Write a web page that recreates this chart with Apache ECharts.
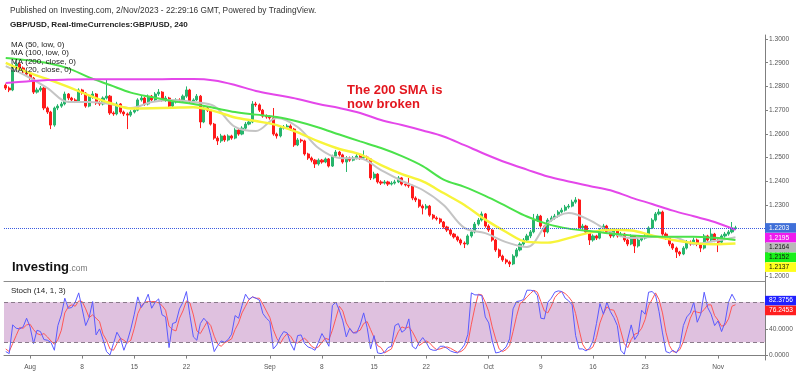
<!DOCTYPE html>
<html><head><meta charset="utf-8">
<script src="https://cdn.jsdelivr.net/npm/echarts@6/dist/echarts.min.js"></script>
<style>html,body{margin:0;padding:0;background:#fff}#c{width:800px;height:375px}</style>
</head><body><div id="c"></div>
<script>
// ---------- DATA ----------
// GBP/USD bars, one every 8 hours, first bar 27 Jul 2023 16:00
const opens = [1.2805,1.2793,1.2785,1.2886,1.2895,1.2878,1.2861,1.2852,1.2835,1.2776,
1.2785,1.2793,1.2709,1.2692,1.2637,1.2709,1.2717,1.2726,1.2768,1.2751,
1.2743,1.2738,1.2785,1.2772,1.2717,1.2755,1.2768,1.2730,1.2726,1.2751,
1.2759,1.2688,1.2684,1.2726,1.2692,1.2684,1.2679,1.2692,1.2700,1.2743,
1.2751,1.2726,1.2759,1.2743,1.2768,1.2776,1.2743,1.2751,1.2717,1.2734,
1.2743,1.2738,1.2759,1.2785,1.2738,1.2743,1.2759,1.2650,1.2709,1.2700,
1.2641,1.2582,1.2570,1.2591,1.2574,1.2591,1.2582,1.2616,1.2599,1.2624,
1.2641,1.2650,1.2726,1.2722,1.2700,1.2675,1.2671,1.2667,1.2599,1.2591,
1.2624,1.2629,1.2633,1.2620,1.2553,1.2574,1.2570,1.2515,1.2498,1.2489,
1.2473,1.2489,1.2481,1.2494,1.2464,1.2506,1.2523,1.2511,1.2481,1.2498,
1.2489,1.2498,1.2506,1.2498,1.2502,1.2494,1.2414,1.2430,1.2397,1.2392,
1.2397,1.2388,1.2392,1.2397,1.2414,1.2388,1.2384,1.2380,1.2329,1.2321,
1.2295,1.2287,1.2295,1.2257,1.2245,1.2241,1.2228,1.2207,1.2194,1.2177,
1.2165,1.2152,1.2139,1.2135,1.2169,1.2186,1.2219,1.2236,1.2262,1.2211,
1.2194,1.2152,1.2110,1.2084,1.2068,1.2059,1.2051,1.2084,1.2110,1.2135,
1.2152,1.2169,1.2186,1.2236,1.2253,1.2211,1.2186,1.2236,1.2245,1.2253,
1.2270,1.2278,1.2291,1.2295,1.2312,1.2321,1.2203,1.2211,1.2186,1.2152,
1.2169,1.2160,1.2194,1.2211,1.2186,1.2169,1.2194,1.2169,1.2177,1.2152,
1.2135,1.2169,1.2127,1.2152,1.2160,1.2169,1.2203,1.2236,1.2262,1.2270,
1.2177,1.2160,1.2135,1.2118,1.2101,1.2093,1.2118,1.2143,1.2135,1.2152,
1.2135,1.2118,1.2169,1.2152,1.2177,1.2152,1.2143,1.2169,1.2177,1.2186,
1.2203];
const closes = [1.2793,1.2785,1.2886,1.2895,1.2878,1.2861,1.2852,1.2835,1.2776,1.2785,
1.2793,1.2709,1.2692,1.2637,1.2709,1.2717,1.2726,1.2768,1.2751,1.2743,
1.2738,1.2785,1.2772,1.2717,1.2755,1.2768,1.2730,1.2726,1.2751,1.2759,
1.2688,1.2684,1.2726,1.2692,1.2684,1.2679,1.2692,1.2700,1.2743,1.2751,
1.2726,1.2759,1.2743,1.2768,1.2776,1.2743,1.2751,1.2717,1.2734,1.2743,
1.2738,1.2759,1.2785,1.2738,1.2743,1.2759,1.2650,1.2709,1.2700,1.2641,
1.2582,1.2570,1.2591,1.2574,1.2591,1.2582,1.2616,1.2599,1.2624,1.2641,
1.2650,1.2726,1.2722,1.2700,1.2675,1.2671,1.2667,1.2599,1.2591,1.2624,
1.2629,1.2633,1.2620,1.2553,1.2574,1.2570,1.2515,1.2498,1.2489,1.2473,
1.2489,1.2481,1.2494,1.2464,1.2506,1.2523,1.2511,1.2481,1.2498,1.2489,
1.2498,1.2506,1.2498,1.2502,1.2494,1.2414,1.2430,1.2397,1.2392,1.2397,
1.2388,1.2392,1.2397,1.2414,1.2388,1.2384,1.2380,1.2329,1.2321,1.2295,
1.2287,1.2295,1.2257,1.2245,1.2241,1.2228,1.2207,1.2194,1.2177,1.2165,
1.2152,1.2139,1.2135,1.2169,1.2186,1.2219,1.2236,1.2262,1.2211,1.2194,
1.2152,1.2110,1.2084,1.2068,1.2059,1.2051,1.2084,1.2110,1.2135,1.2152,
1.2169,1.2186,1.2236,1.2253,1.2211,1.2186,1.2236,1.2245,1.2253,1.2270,
1.2278,1.2291,1.2295,1.2312,1.2321,1.2203,1.2211,1.2186,1.2152,1.2169,
1.2160,1.2194,1.2211,1.2186,1.2169,1.2194,1.2169,1.2177,1.2152,1.2135,
1.2169,1.2127,1.2152,1.2160,1.2169,1.2203,1.2236,1.2262,1.2270,1.2177,
1.2160,1.2135,1.2118,1.2101,1.2093,1.2118,1.2143,1.2135,1.2152,1.2135,
1.2118,1.2169,1.2152,1.2177,1.2152,1.2143,1.2169,1.2177,1.2186,1.2203,
1.2203];
const highs = [1.2812,1.2800,1.2895,1.2905,1.2900,1.2884,1.2866,1.2858,1.2840,1.2795,
1.2802,1.2798,1.2715,1.2697,1.2715,1.2725,1.2735,1.2778,1.2772,1.2756,
1.2750,1.2792,1.2790,1.2776,1.2762,1.2780,1.2772,1.2738,1.2758,1.2827,
1.2764,1.2695,1.2735,1.2730,1.2698,1.2690,1.2700,1.2708,1.2750,1.2762,
1.2756,1.2766,1.2764,1.2776,1.2789,1.2780,1.2760,1.2756,1.2742,1.2750,
1.2750,1.2766,1.2800,1.2790,1.2750,1.2768,1.2764,1.2715,1.2716,1.2705,
1.2646,1.2590,1.2600,1.2596,1.2598,1.2596,1.2624,1.2620,1.2632,1.2650,
1.2660,1.2738,1.2735,1.2728,1.2705,1.2682,1.2678,1.2709,1.2605,1.2630,
1.2637,1.2641,1.2640,1.2625,1.2582,1.2580,1.2575,1.2520,1.2504,1.2494,
1.2496,1.2494,1.2500,1.2498,1.2512,1.2532,1.2528,1.2516,1.2506,1.2504,
1.2506,1.2515,1.2512,1.2530,1.2508,1.2498,1.2440,1.2434,1.2404,1.2405,
1.2402,1.2400,1.2406,1.2422,1.2418,1.2395,1.2414,1.2385,1.2336,1.2326,
1.2302,1.2304,1.2300,1.2262,1.2252,1.2246,1.2232,1.2212,1.2200,1.2182,
1.2170,1.2158,1.2146,1.2176,1.2194,1.2228,1.2245,1.2272,1.2266,1.2218,
1.2198,1.2156,1.2116,1.2090,1.2074,1.2065,1.2092,1.2118,1.2142,1.2160,
1.2178,1.2194,1.2262,1.2262,1.2258,1.2216,1.2244,1.2254,1.2262,1.2278,
1.2288,1.2300,1.2304,1.2322,1.2333,1.2326,1.2220,1.2216,1.2190,1.2176,
1.2174,1.2202,1.2220,1.2216,1.2192,1.2200,1.2198,1.2186,1.2182,1.2158,
1.2176,1.2173,1.2160,1.2168,1.2177,1.2210,1.2244,1.2270,1.2283,1.2276,
1.2184,1.2165,1.2140,1.2124,1.2106,1.2126,1.2152,1.2150,1.2162,1.2158,
1.2140,1.2177,1.2174,1.2203,1.2182,1.2158,1.2176,1.2186,1.2194,1.2228,
1.2212];
const lows = [1.2785,1.2776,1.2780,1.2878,1.2870,1.2855,1.2845,1.2828,1.2768,1.2770,
1.2778,1.2700,1.2684,1.2620,1.2630,1.2700,1.2710,1.2720,1.2742,1.2735,
1.2730,1.2732,1.2765,1.2710,1.2712,1.2748,1.2722,1.2718,1.2720,1.2745,
1.2680,1.2676,1.2678,1.2685,1.2675,1.2620,1.2672,1.2686,1.2695,1.2736,
1.2718,1.2720,1.2735,1.2738,1.2760,1.2736,1.2735,1.2710,1.2712,1.2728,
1.2730,1.2733,1.2752,1.2730,1.2732,1.2738,1.2624,1.2645,1.2692,1.2635,
1.2575,1.2553,1.2562,1.2566,1.2568,1.2575,1.2577,1.2592,1.2594,1.2618,
1.2636,1.2645,1.2714,1.2692,1.2668,1.2664,1.2660,1.2592,1.2580,1.2585,
1.2618,1.2622,1.2612,1.2545,1.2548,1.2562,1.2508,1.2490,1.2480,1.2456,
1.2466,1.2474,1.2476,1.2458,1.2460,1.2500,1.2504,1.2474,1.2439,1.2482,
1.2484,1.2492,1.2490,1.2493,1.2488,1.2405,1.2408,1.2390,1.2384,1.2386,
1.2380,1.2382,1.2386,1.2392,1.2382,1.2378,1.2372,1.2320,1.2312,1.2288,
1.2260,1.2280,1.2250,1.2238,1.2234,1.2220,1.2200,1.2186,1.2170,1.2158,
1.2145,1.2130,1.2118,1.2130,1.2162,1.2180,1.2212,1.2230,1.2204,1.2186,
1.2145,1.2102,1.2076,1.2060,1.2050,1.2038,1.2046,1.2078,1.2104,1.2128,
1.2146,1.2160,1.2180,1.2228,1.2204,1.2165,1.2180,1.2230,1.2238,1.2246,
1.2264,1.2272,1.2284,1.2290,1.2305,1.2196,1.2195,1.2178,1.2131,1.2145,
1.2152,1.2155,1.2188,1.2178,1.2160,1.2162,1.2162,1.2164,1.2144,1.2126,
1.2130,1.2097,1.2120,1.2146,1.2154,1.2164,1.2198,1.2230,1.2256,1.2170,
1.2152,1.2126,1.2110,1.2076,1.2084,1.2088,1.2112,1.2128,1.2130,1.2126,
1.2101,1.2112,1.2145,1.2147,1.2143,1.2101,1.2138,1.2162,1.2170,1.2180,
1.2194];

// moving averages, read every 6th bar
const maBars = [0,6,12,18,24,30,36,42,48,54,60,66,72,78,84,90,96,102,108,114,120,126,132,138,144,150,156,162,168,174,180,186,192,198,204,210];
const ma200 = [1.2814,1.2821,1.2827,1.2829,1.2830,1.2830,1.2830,1.2830,1.2831,1.2831,1.2825,1.2806,1.2781,1.2764,1.2747,1.2726,1.2709,1.2688,1.2658,1.2637,1.2614,1.2589,1.2552,1.2514,1.2479,1.2449,1.2420,1.2399,1.2380,1.2362,1.2331,1.2304,1.2276,1.2252,1.2228,1.2195];
const ma100 = [1.2920,1.2911,1.2899,1.2876,1.2838,1.2806,1.2774,1.2755,1.2738,1.2726,1.2709,1.2692,1.2681,1.2671,1.2652,1.2627,1.2597,1.2568,1.2540,1.2506,1.2464,1.2407,1.2376,1.2338,1.2295,1.2251,1.2219,1.2200,1.2190,1.2179,1.2171,1.2167,1.2166,1.2166,1.2161,1.2152];
const ma50 = [1.2899,1.2861,1.2831,1.2798,1.2762,1.2730,1.2707,1.2708,1.2710,1.2712,1.2696,1.2669,1.2654,1.2637,1.2606,1.2568,1.2536,1.2513,1.2468,1.2430,1.2399,1.2350,1.2300,1.2238,1.2186,1.2144,1.2141,1.2160,1.2183,1.2195,1.2192,1.2171,1.2152,1.2139,1.2134,1.2137];
const ma20 = [1.2886,1.2844,1.2793,1.2734,1.2734,1.2726,1.2709,1.2734,1.2743,1.2734,1.2717,1.2629,1.2612,1.2667,1.2629,1.2540,1.2498,1.2496,1.2447,1.2401,1.2363,1.2300,1.2203,1.2181,1.2143,1.2122,1.2224,1.2266,1.2236,1.2186,1.2160,1.2165,1.2165,1.2135,1.2148,1.2164];

// Stochastic (14,1,3)
const stochK = [6,3,46,41,40,43,56,43,18,38,
36,24,23,20,8,45,61,86,71,72,
80,94,70,45,57,81,31,40,24,6,
1,18,35,26,8,22,40,62,88,72,
80,92,71,80,85,61,58,12,48,50,
70,80,96,60,28,23,48,56,50,30,
6,15,22,20,24,32,60,56,75,92,
84,88,86,83,63,56,51,10,16,28,
36,34,18,8,30,31,18,13,11,8,
20,33,24,14,75,80,68,52,28,41,
34,34,46,64,42,10,30,4,3,5,
12,14,45,48,35,39,55,14,10,20,
27,20,10,8,8,14,14,11,7,5,
4,9,16,32,94,91,91,90,58,49,
22,4,5,8,13,25,70,81,82,84,
98,98,97,90,56,55,80,86,95,97,
96,86,82,76,30,10,10,7,11,22,
48,78,62,80,66,57,45,8,2,25,
46,24,32,68,62,95,96,91,66,34,
6,4,8,4,14,45,58,64,80,50,
62,95,72,62,45,52,36,50,80,92,
82.3756];
const stochD = [10,6,18,30,42,41,46,47,39,33,
31,33,28,22,17,24,38,64,73,76,
74,82,81,70,57,61,56,51,32,23,
10,8,18,26,23,19,23,41,63,74,
80,81,81,81,79,75,68,44,39,37,
56,67,82,79,61,37,33,42,51,45,
29,17,14,19,22,25,39,49,64,74,
84,88,86,86,77,67,57,39,26,18,
27,33,29,20,19,23,26,21,14,11,
13,20,26,24,38,56,74,67,49,40,
34,36,38,48,51,39,27,15,12,4,
7,10,24,36,43,41,43,36,26,15,
19,22,19,13,9,10,12,13,11,8,
5,6,10,19,47,72,92,91,80,66,
43,25,10,6,9,15,36,59,78,82,
88,93,98,95,81,67,64,74,87,93,
96,93,88,81,63,39,17,9,9,13,
27,49,63,73,69,68,56,37,18,12,
24,32,34,41,54,75,84,94,84,64,
35,15,6,5,9,21,39,56,67,65,
64,69,76,76,60,53,44,46,55,74,
76.2453];

// axis tick labels
const priceTicks = [1.20,1.21,1.22,1.23,1.24,1.25,1.26,1.27,1.28,1.29,1.30];
const stochTicks = [0,40,80];
const dateTickDays = ['2023-08-01','2023-08-08','2023-08-15','2023-08-22','2023-09-01','2023-09-08','2023-09-15','2023-09-22','2023-10-02','2023-10-09','2023-10-16','2023-10-23','2023-11-01'];
const dateTickLabels = ['Aug','8','15','22','Sep','8','15','22','Oct','9','16','23','Nov'];

// ---------- BUILD ----------
const FONT = '"Liberation Sans", Arial, sans-serif';
const barHours = 8, slotCount = 219;
function pad(n){return (n<10?'0':'')+n;}
const categories = [];
(function(){
  let t = Date.UTC(2023,6,27,16);
  for (let k=0;k<slotCount;k++){
    const d = new Date(t);
    categories.push(d.getUTCFullYear()+'-'+pad(d.getUTCMonth()+1)+'-'+pad(d.getUTCDate())+' '+pad(d.getUTCHours()));
    t += barHours*3600e3;
    if (new Date(t).getUTCDay()===6) t += 2*86400e3;
  }
})();
const tickMap = {};
dateTickDays.forEach((d,k)=>{ tickMap[d+' 00'] = dateTickLabels[k]; });
const isTick = (idx,val)=> tickMap[val] !== undefined;

const candleData = closes.map((c,i)=>[opens[i], c, lows[i], highs[i]]);
const maPairs = arr => maBars.map((b,k)=>[b, arr[k]]);

const chart = echarts.init(document.getElementById('c'), null, {renderer:'canvas'});
const axisGray = '#7f7f7f';
const GRID_L = 4, GRID_R = 35;

const option = {
  animation:false,
  backgroundColor:'#ffffff',
  grid:[
    {left:GRID_L, right:GRID_R, top:35, height:246},
    {left:GRID_L, right:GRID_R, top:281, height:79}
  ],
  xAxis:[
    {type:'category', gridIndex:0, data:categories, boundaryGap:true,
     axisLine:{show:true, lineStyle:{color:'#8c8c8c', width:1}},
     axisTick:{show:false}, axisLabel:{show:false}, splitLine:{show:false}},
    {type:'category', gridIndex:1, data:categories, boundaryGap:true,
     axisLine:{show:true, lineStyle:{color:axisGray, width:1}},
     axisTick:{show:true, interval:isTick, alignWithLabel:true, length:3, lineStyle:{color:axisGray}},
     axisLabel:{show:true, interval:isTick, formatter:v=>tickMap[v]||'', color:'#555', fontSize:6.6, fontFamily:FONT, margin:4},
     splitLine:{show:false}}
  ],
  yAxis:[
    {type:'value', gridIndex:0, position:'right', min:1.1979, max:1.3017, scale:true,
     axisLine:{show:true, lineStyle:{color:axisGray}},
     axisTick:{show:true, length:3, customValues:priceTicks, lineStyle:{color:axisGray}},
     axisLabel:{show:true, customValues:priceTicks, formatter:v=>v.toFixed(4), color:'#555', fontSize:6.6, fontFamily:FONT, margin:4},
     splitLine:{show:false}},
    {type:'value', gridIndex:1, position:'right', min:-6.6, max:111.8,
     axisLine:{show:true, lineStyle:{color:axisGray}},
     axisTick:{show:true, length:3, customValues:stochTicks, lineStyle:{color:axisGray}},
     axisLabel:{show:true, customValues:stochTicks, formatter:v=>v.toFixed(4), color:'#555', fontSize:6.6, fontFamily:FONT, margin:4},
     splitLine:{show:false}}
  ],
  series:[
    {type:'candlestick', xAxisIndex:0, yAxisIndex:0, data:candleData, barWidth:2.6, z:2,
     itemStyle:{color:'#27b56c', color0:'#ff1a1a', borderColor:'#27b56c', borderColor0:'#ff1a1a', borderWidth:1},
     markLine:{silent:true, symbol:'none', label:{show:false},
       lineStyle:{type:'dotted', color:'#3a5be0', width:1},
       data:[{yAxis:closes[closes.length-1]}]}},
    {type:'line', name:'MA20', xAxisIndex:0, yAxisIndex:0, data:maPairs(ma20), showSymbol:false, smooth:0.35, z:3,
     lineStyle:{color:'#c4c4c4', width:2}},
    {type:'line', name:'MA50', xAxisIndex:0, yAxisIndex:0, data:maPairs(ma50), showSymbol:false, smooth:0.35, z:3,
     lineStyle:{color:'#f7f43a', width:2.4}},
    {type:'line', name:'MA100', xAxisIndex:0, yAxisIndex:0, data:maPairs(ma100), showSymbol:false, smooth:0.35, z:3,
     lineStyle:{color:'#4be24b', width:2}},
    {type:'line', name:'MA200', xAxisIndex:0, yAxisIndex:0, data:maPairs(ma200), showSymbol:false, smooth:0.35, z:3,
     lineStyle:{color:'#e447ea', width:2}},
    {type:'line', name:'%D', xAxisIndex:1, yAxisIndex:1, data:stochD, showSymbol:false, z:3,
     lineStyle:{color:'#ff5757', width:1},
     markArea:{silent:true, itemStyle:{color:'#dfc1df'}, data:[[{yAxis:20},{yAxis:80}]]},
     markLine:{silent:true, symbol:'none', label:{show:false},
       lineStyle:{type:[4,3], color:'#8a7a8a', width:1}, data:[{yAxis:20},{yAxis:80}]}},
    {type:'line', name:'%K', xAxisIndex:1, yAxisIndex:1, data:stochK, showSymbol:false, z:4,
     lineStyle:{color:'#5a5aff', width:1}}
  ]
};
chart.setOption(option);

// ---------- TEXTS & PRICE TAGS ----------
function txt(x,y,text,font,fill){
  return {type:'text', x:x, y:y, z:100, silent:true,
    style:{text:text, font:font, fill:fill, verticalAlign:'middle', textAlign:'left'}};
}
const g = [
  txt(10,10.5,'Published on Investing.com, 2/Nov/2023 - 22:29:16 GMT, Powered by TradingView.','8.3px '+FONT,'#333'),
  txt(10,25,'GBP/USD, Real-timeCurrencies:GBP/USD, 240','bold 8.1px '+FONT,'#222'),
  txt(11,45,'MA (50, low, 0)','8px '+FONT,'#222'),
  txt(11,53,'MA (100, low, 0)','8px '+FONT,'#222'),
  txt(11,61.5,'MA (200, close, 0)','8px '+FONT,'#222'),
  txt(11,69.5,'MA (20, close, 0)','8px '+FONT,'#222'),
  txt(11,290.5,'Stoch (14, 1, 3)','8px '+FONT,'#222'),
  {type:'text', x:12, y:267, z:100, silent:true,
   style:{text:'{a|Investing}{b|.com}', verticalAlign:'middle',
     rich:{a:{font:'bold 13px '+FONT, fill:'#111', verticalAlign:'bottom'},
           b:{font:'8.5px '+FONT, fill:'#777', verticalAlign:'bottom'}}}},
  {type:'text', x:347, y:97.5, z:100, silent:true,
   style:{text:'The 200 SMA is\nnow broken', font:'bold 13px '+FONT, fill:'#e3161e', lineHeight:14.5, verticalAlign:'middle'}}
];

function tags(axisIdx, list){
  const items = list.map(t=>Object.assign({py: chart.convertToPixel({yAxisIndex:axisIdx}, t.v)}, t));
  items.sort((a,b)=>a.py-b.py);
  let prev = -1e9;
  items.forEach(t=>{
    const y = Math.max(t.py, prev + 9.8);
    prev = y;
    g.push({type:'rect', z:101, silent:true, shape:{x:765, y:y-4.8, width:31, height:9.6}, style:{fill:t.bg}});
    g.push({type:'text', z:102, silent:true, x:769, y:y,
      style:{text:t.v.toFixed(4), font:'6.6px '+FONT, fill:t.fg, verticalAlign:'middle'}});
  });
}
const last = a=>a[a.length-1];
tags(0, [
  {v:last(closes), bg:'#3f6fd8', fg:'#ffffff'},
  {v:last(ma200), bg:'#ee1cee', fg:'#ffffff'},
  {v:last(ma20), bg:'#b9b9b9', fg:'#111111'},
  {v:last(ma100), bg:'#19f019', fg:'#111111'},
  {v:last(ma50), bg:'#ffff1a', fg:'#111111'}
]);
tags(1, [
  {v:last(stochK), bg:'#1f1fff', fg:'#ffffff'},
  {v:last(stochD), bg:'#ff1f1f', fg:'#ffffff'}
]);
chart.setOption({graphic:{elements:g}});
</script>
</body></html>
